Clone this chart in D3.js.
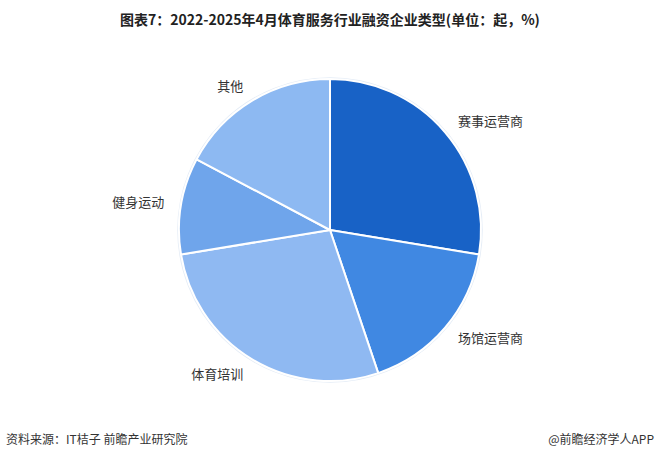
<!DOCTYPE html>
<html><head><meta charset="utf-8">
<script src="https://cdn.jsdelivr.net/npm/d3@7"></script>
<style>body{margin:0;background:#fff}svg{display:block}</style>
</head><body>
<svg id="c" width="660" height="456"></svg>
<script>
const categories = ["赛事运营商","场馆运营商","体育培训","健身运动","其他"];
const values = [16, 10, 16, 6, 10];
const colors = ["#1862c6","#4088e2","#8fb9f2","#6fa5eb","#8db9f2"];
const title = "图表7：2022-2025年4月体育服务行业融资企业类型(单位：起，%)";
const source = "资料来源：IT桔子 前瞻产业研究院";
const brand = "@前瞻经济学人APP";

const svg = d3.select("#c");
const cx = 330, cy = 230, R = 151;
const data = categories.map((c,i)=>({name:c, value:values[i], color:colors[i]}));
const pie = d3.pie().value(d=>d.value).sort(null);
const arc = d3.arc().innerRadius(0).outerRadius(R);
const labelArc = d3.arc().innerRadius(168).outerRadius(168);
const arcs = pie(data);

svg.append("text").attr("x",330).attr("y",25).attr("text-anchor","middle")
  .attr("font-family","'Noto Sans CJK SC', sans-serif").attr("font-weight","bold")
  .attr("font-size",14).attr("fill","#222").text(title);

const g = svg.append("g").attr("transform",`translate(${cx},${cy})`);
g.append("circle").attr("r",R+1).attr("fill","none").attr("stroke","#e4ecf6").attr("stroke-width",1.5);
g.selectAll("path").data(arcs).join("path")
  .attr("d",arc).attr("fill",d=>d.data.color)
  .attr("stroke","#fff").attr("stroke-width",2).attr("stroke-linejoin","round");

g.selectAll("text.lbl").data(arcs).join("text").attr("class","lbl")
  .attr("transform",d=>{const p=labelArc.centroid(d);return `translate(${p[0]},${p[1]})`;})
  .attr("text-anchor",d=>((d.startAngle+d.endAngle)/2 < Math.PI ? "start":"end"))
  .attr("dy","0.35em")
  .attr("font-family","'Noto Sans CJK SC', sans-serif").attr("font-size",13).attr("fill","#333")
  .text(d=>d.data.name);

svg.append("text").attr("x",6).attr("y",444)
  .attr("font-family","'Noto Sans CJK SC', sans-serif").attr("font-size",12).attr("fill","#333").text(source);
svg.append("text").attr("x",654).attr("y",444).attr("text-anchor","end")
  .attr("font-family","'Noto Sans CJK SC', sans-serif").attr("font-size",12).attr("fill","#333").text(brand);
</script>
</body></html>
